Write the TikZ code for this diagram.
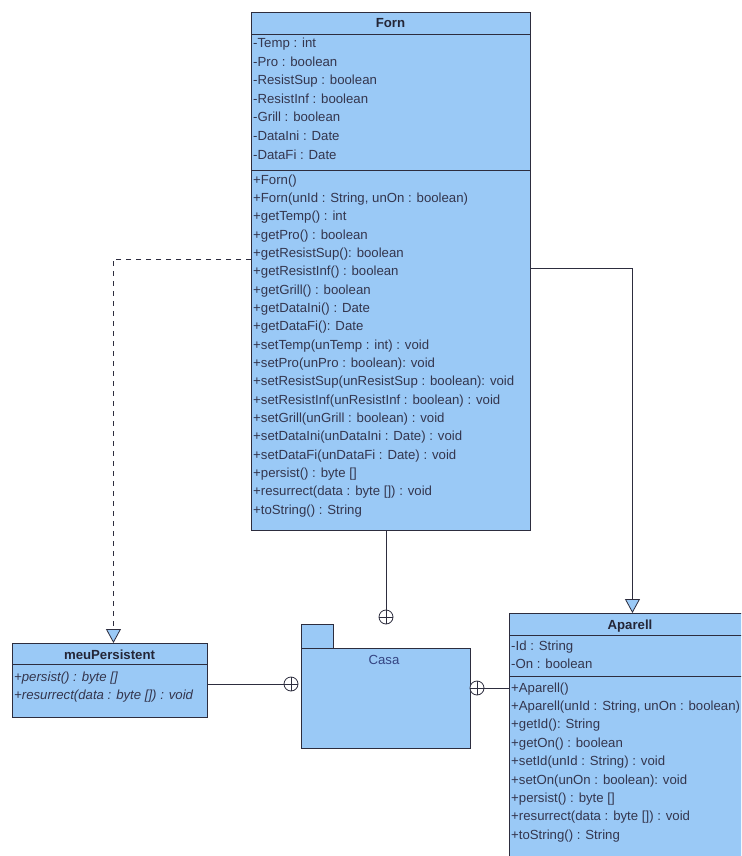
\documentclass[tikz,border=0pt]{standalone}
\usepackage{fontspec}
\setmainfont{Liberation Sans}
\usetikzlibrary{arrows.meta}

\definecolor{boxfill}{RGB}{154,201,246}
\definecolor{edge}{RGB}{45,45,62}
\definecolor{ink}{RGB}{52,54,78}
\definecolor{pkgink}{RGB}{52,68,130}

\tikzset{
  umlbox/.style={draw=edge, fill=boxfill, line width=0.9pt, inner sep=0pt, anchor=north west},
  member/.style={anchor=base west, inner sep=0pt, text=ink, font=\fontsize{13.2}{15}\selectfont},
  classname/.style={anchor=base, inner sep=0pt, text=ink!70!black, font=\fontsize{13.2}{15}\selectfont\bfseries},
  link/.style={draw=edge, line width=0.8pt},
  inherit/.style={link, -{Triangle[length=14pt,width=15pt,fill=boxfill]}},
  realize/.style={inherit, dash pattern=on 5pt off 5pt},
  nest/.style={circle, draw=edge, fill=white, line width=0.8pt, minimum size=14pt, inner sep=0pt,
    path picture={\draw[edge, line width=0.8pt]
      (path picture bounding box.north) -- (path picture bounding box.south)
      (path picture bounding box.west) -- (path picture bounding box.east);}}
}

\begin{document}
\begin{tikzpicture}[x=1pt, y=-1pt]
  \clip (0,0) rectangle (741,856);
  \fill[white] (0,0) rectangle (741,856);

  % ---- class Forn ----
  \node[umlbox, minimum width=279pt, minimum height=518pt] (forn) at (251,12) {};
  \draw[link] ([yshift=-22pt]forn.north west) -- ([yshift=-22pt]forn.north east);
  \draw[link] ([yshift=-158pt]forn.north west) -- ([yshift=-158pt]forn.north east);
  \node[classname] (forn-name) at (390.5,28) {Forn};
  \foreach \t [count=\i from 0] in {
      {-Temp : int}, {-Pro : boolean}, {-ResistSup : boolean}, {-ResistInf : boolean},
      {-Grill : boolean}, {-DataIni : Date}, {-DataFi : Date}}
    \node[member] (forn-a\i) at (253, 47.5+18.6*\i) {\t};
  \foreach \t [count=\i from 0] in {
      {+Forn()}, {+Forn(unId : String, unOn : boolean)}, {+getTemp() : int},
      {+getPro() : boolean}, {+getResistSup(): boolean}, {+getResistInf() : boolean},
      {+getGrill() : boolean}, {+getDataIni() : Date}, {+getDataFi(): Date},
      {+setTemp(unTemp : int) : void}, {+setPro(unPro : boolean): void},
      {+setResistSup(unResistSup : boolean): void}, {+setResistInf(unResistInf : boolean) : void},
      {+setGrill(unGrill : boolean) : void}, {+setDataIni(unDataIni : Date) : void},
      {+setDataFi(unDataFi : Date) : void}, {+persist() : byte []},
      {+resurrect(data : byte []) : void}, {+toString() : String}}
    \node[member] (forn-m\i) at (253, 184+18.35*\i) {\t};

  % ---- interface meuPersistent ----
  \node[umlbox, minimum width=195pt, minimum height=74pt] (mp) at (12,643) {};
  \draw[link] ([yshift=-21pt]mp.north west) -- ([yshift=-21pt]mp.north east);
  \node[classname] (mp-name) at (109.5,659) {meuPersistent};
  \node[member, font=\fontsize{13.2}{15}\selectfont\itshape] (mp-m0) at (14,681) {+persist() : byte []};
  \node[member, font=\fontsize{13.2}{15}\selectfont\itshape] (mp-m1) at (14,699) {+resurrect(data : byte []) : void};

  % ---- class Aparell ----
  \node[umlbox, minimum width=242pt, minimum height=260pt] (ap) at (509,613) {};
  \draw[link] ([yshift=-22pt]ap.north west) -- ([yshift=-22pt]ap.north east);
  \draw[link] ([yshift=-63pt]ap.north west) -- ([yshift=-63pt]ap.north east);
  \node[classname] (ap-name) at (630,629) {Aparell};
  \foreach \t [count=\i from 0] in {{-Id : String}, {-On : boolean}}
    \node[member] (ap-a\i) at (511, 650+18.4*\i) {\t};
  \foreach \t [count=\i from 0] in {
      {+Aparell()}, {+Aparell(unId : String, unOn : boolean)}, {+getId(): String},
      {+getOn() : boolean}, {+setId(unId : String) : void}, {+setOn(unOn : boolean): void},
      {+persist() : byte []}, {+resurrect(data : byte []) : void}, {+toString() : String}}
    \node[member] (ap-m\i) at (511, 692+18.4*\i) {\t};

  % ---- package Casa ----
  \node[umlbox, minimum width=32pt, minimum height=24pt] (casa-tab) at (301,624) {};
  \node[umlbox, minimum width=169pt, minimum height=100pt] (casa) at (301,648) {};
  \node[anchor=base, inner sep=0pt, text=pkgink, font=\fontsize{13.2}{15}\selectfont] (casa-name) at (384,664) {Casa};

  % ---- containment ends ----
  \node[nest] (n-top) at (386,617) {};
  \node[nest] (n-left) at (291,684) {};
  \node[nest] (n-right) at (477,688) {};

  \draw[link] (n-top.north |- forn.south) -- (n-top.north);
  \draw[link] (mp.east |- n-left) -- (n-left.west);
  \draw[link] (n-right.east) -- (ap.west |- n-right);

  % ---- realization and generalization ----
  \path (forn.north west) ++(0,247) coordinate (forn-l);
  \path (forn.north east) ++(0,256) coordinate (forn-r);
  \draw[realize] (forn-l) -| ([xshift=3.5pt]mp.north);
  \draw[inherit] (forn-r) -| ([xshift=2pt]ap.north);
\end{tikzpicture}
\end{document}
